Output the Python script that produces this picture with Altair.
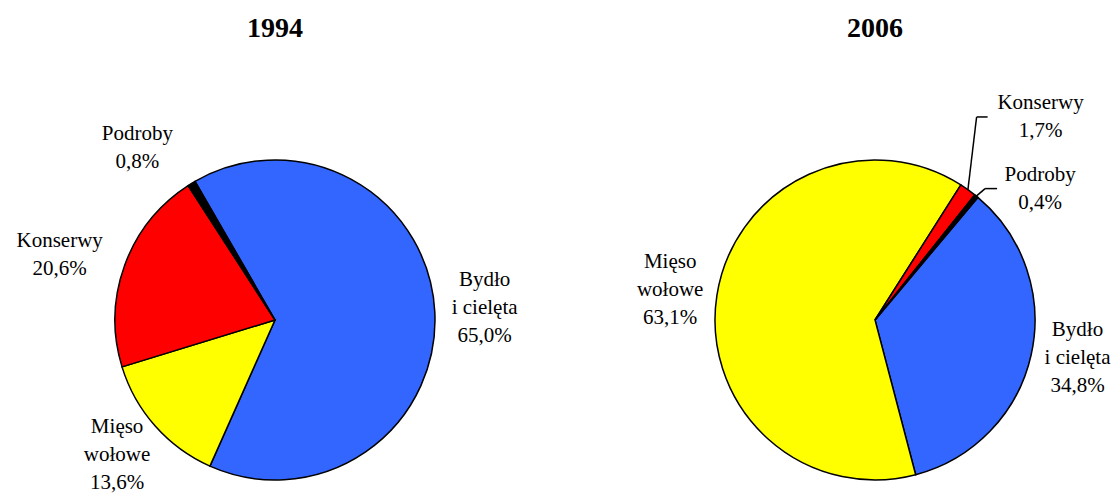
import math
import altair as alt
import pandas as pd

# ---- data ----
categories = ["Bydło i cielęta", "Mięso wołowe", "Konserwy", "Podroby"]
label_names = ["Bydło\ni cielęta", "Mięso\nwołowe", "Konserwy", "Podroby"]
years = ["1994", "2006"]
share_1994 = [65.0, 13.6, 20.6, 0.8]
share_2006 = [34.8, 63.1, 1.7, 0.4]
shares = {"1994": share_1994, "2006": share_2006}

# ---- style / layout ----
colors = ["#3366FF", "#FFFF00", "#FF0000", "#000000"]
FONT = "Liberation Serif"
FS = 21
LH = 28
panel_w = {"1994": 535, "2006": 568}
PANEL_H = 480
R = 160
center_x = {"1994": 267, "2006": 332}
center_y = 312
start_deg = {"1994": -30, "2006": 40}
label_radius = {"1994": [210, 208, 225, 220], "2006": [206, 207, 262, 211]}
label_nudge = {"1994": [-0.3, 0.9, -3.2, -7.3], "2006": [-2.1, -0.6, 3.7, 12.2]}
leader_elbow = {"1994": [0, 0, 0, 0], "2006": [0, 0, 64, 55]}
leader_end = {"1994": [0, 0, 0, 0], "2006": [0, 0, 53, 43]}


def fmt(v):
    return f"{v:.1f}".replace(".", ",") + "%"


def panel(year):
    cx = center_x[year]
    cy = center_y
    s = math.radians(start_deg[year])
    vals = shares[year]
    df = pd.DataFrame({
        "year": [year] * len(categories),
        "category": categories,
        "order": list(range(len(categories))),
        "value": vals,
        "label": [f"{n}\n{fmt(v)}" for n, v in zip(label_names, vals)],
        "lr": label_radius[year],
        "nudge": label_nudge[year],
        "e1": leader_elbow[year],
        "e2": leader_end[year],
    })
    theta_scale = alt.Scale(domain=[0, 100], range=[s, s + 2 * math.pi])

    base = alt.Chart(df).transform_window(
        cum="sum(value)",
        sort=[alt.SortField("order", order="ascending")],
        frame=[None, 0],
    ).transform_calculate(
        a0=f"{s} + 2 * PI * (datum.cum - datum.value / 2) / 100",
        a1=f"{s} + 2 * PI * (datum.cum - datum.value / 2 + datum.nudge / 3.6) / 100",
    ).transform_calculate(
        x0=f"{cx} + {R} * sin(datum.a0)",
        y0=f"{cy} - {R} * cos(datum.a0)",
        lx=f"{cx} + datum.lr * sin(datum.a1)",
        ly=f"{cy} - datum.lr * cos(datum.a1)",
        nl="length(split(datum.label, '\\n'))",
    ).transform_calculate(
        ty=f"datum.ly - (datum.nl - 1) * {LH} / 2",
        xe="datum.lx - datum.e1",
        xn="datum.lx - datum.e2",
    )

    arcs = alt.Chart(df).mark_arc(
        outerRadius=R, stroke="black", strokeWidth=1.5
    ).encode(
        theta=alt.Theta("value:Q", stack=True, scale=theta_scale),
        color=alt.Color("category:N", scale=alt.Scale(domain=categories, range=colors), legend=None),
        order=alt.Order("order:Q"),
        x=alt.value(cx),
        y=alt.value(cy),
    )

    lead = base.transform_filter("datum.e1 > 0")
    seg1 = lead.mark_rule(color="black", strokeWidth=1.5).encode(
        x=alt.X("x0:Q", scale=None), y=alt.Y("y0:Q", scale=None),
        x2="xe:Q", y2="ly:Q",
    )
    seg2 = lead.mark_rule(color="black", strokeWidth=1.5).encode(
        x=alt.X("xe:Q", scale=None), y=alt.Y("ly:Q", scale=None),
        x2="xn:Q", y2="ly:Q",
    )

    labels = base.mark_text(
        font=FONT, fontSize=FS, lineBreak="\n", lineHeight=LH,
        align="center", baseline="middle", color="black",
    ).encode(
        x=alt.X("lx:Q", scale=None),
        y=alt.Y("ty:Q", scale=None),
        text="label:N",
    )

    title = alt.Chart(df).transform_filter("datum.order == 0").mark_text(
        font=FONT, fontSize=28, fontWeight="bold", align="center",
        baseline="middle", color="black",
    ).encode(
        text="year:N",
        x=alt.value(cx),
        y=alt.value(21),
    )

    return alt.layer(arcs, seg1, seg2, labels, title).properties(
        width=panel_w[year], height=PANEL_H
    )


chart = alt.hconcat(panel("1994"), panel("2006"), spacing=0, bounds="flush").properties(
    padding={"left": 0, "top": 0, "right": 0, "bottom": 0}
).configure_view(stroke=None)

chart.save("out.html", embed_options={"renderer": "svg", "actions": False})
